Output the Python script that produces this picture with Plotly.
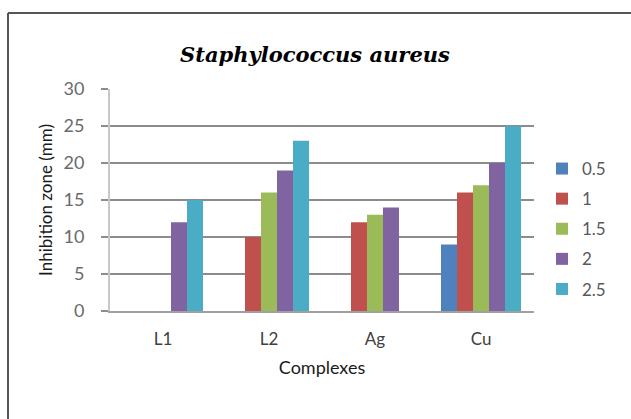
import plotly.graph_objects as go

categories = ["L1", "L2", "Ag", "Cu"]
series_names = ["0.5", "1", "1.5", "2", "2.5"]
values_05 = [None, None, None, 9]
values_1 = [None, 10, 12, 16]
values_15 = [None, 16, 13, 17]
values_2 = [12, 19, 14, 20]
values_25 = [15, 23, None, 25]
series_values = [values_05, values_1, values_15, values_2, values_25]
colors = ["#4F81BD", "#C0504D", "#9BBB59", "#8064A2", "#4BACC6"]
y_ticks = [0, 5, 10, 15, 20, 25, 30]

W, H = 631, 419
L, R, T, B = 110, 534, 89, 311

fig = go.Figure()
for name, vals, col in zip(series_names, series_values, colors):
    fig.add_trace(go.Bar(x=categories, y=vals, name=name, marker_color=col,
                         marker_line_width=0, legendgroup=name))

def px(x):
    return (x - L) / (R - L)

def py(y):
    return (B - y) / (B - T)

fig.update_layout(
    width=W, height=H,
    margin=dict(l=L, r=W - R, t=T, b=H - B, autoexpand=False),
    paper_bgcolor="white", plot_bgcolor="white",
    barmode="group", bargap=0.245, bargroupgap=0,
    font=dict(family="Lato, Liberation Sans, sans-serif", size=17, color="#595959"),
    title=dict(text="<b><i>Staphylococcus aureus</i></b>",
               font=dict(family="DejaVu Serif, serif", size=21, color="#000"),
               x=315 / W, xanchor="center", y=1 - 55 / H, yanchor="middle"),
    showlegend=True,
    legend=dict(x=px(542), xanchor="left", y=py(151), yanchor="top",
                font=dict(size=17, color="#595959"), tracegroupgap=5,
                itemwidth=30, bgcolor="rgba(0,0,0,0)"),
    xaxis=dict(showgrid=False, showline=True, linecolor="#A0A0A0", linewidth=1.5,
               ticks="", tickfont=dict(size=17, color="#404040"), ticklabelstandoff=12,
               title=dict(text="Complexes", font=dict(size=18, color="#1a1a1a"), standoff=13)),
    yaxis=dict(range=[0, 30], tickvals=y_ticks, showgrid=True, gridcolor="#8C8C8C",
               gridwidth=1.5, showline=True, linecolor="#C8C8C8", linewidth=2,
               ticks="outside", ticklen=7, tickcolor="#8C8C8C", tickwidth=1.5,
               zeroline=False, ticklabelstandoff=13,
               tickfont=dict(size=18, color="#6a6a6a"),
               title=dict(text="Inhibition zone (mm)", font=dict(size=17, color="#1a1a1a"),
                          standoff=7)),
    shapes=[
        dict(type="line", xref="paper", yref="paper", x0=px(8), x1=px(640),
             y0=py(13), y1=py(13), line=dict(color="#555555", width=2)),
        dict(type="line", xref="paper", yref="paper", x0=px(8), x1=px(8),
             y0=py(13), y1=py(430), line=dict(color="#555555", width=2)),
    ],
)

fig.write_html("out.html", config={"displayModeBar": False},
               post_script="document.body.style.margin='0';")
